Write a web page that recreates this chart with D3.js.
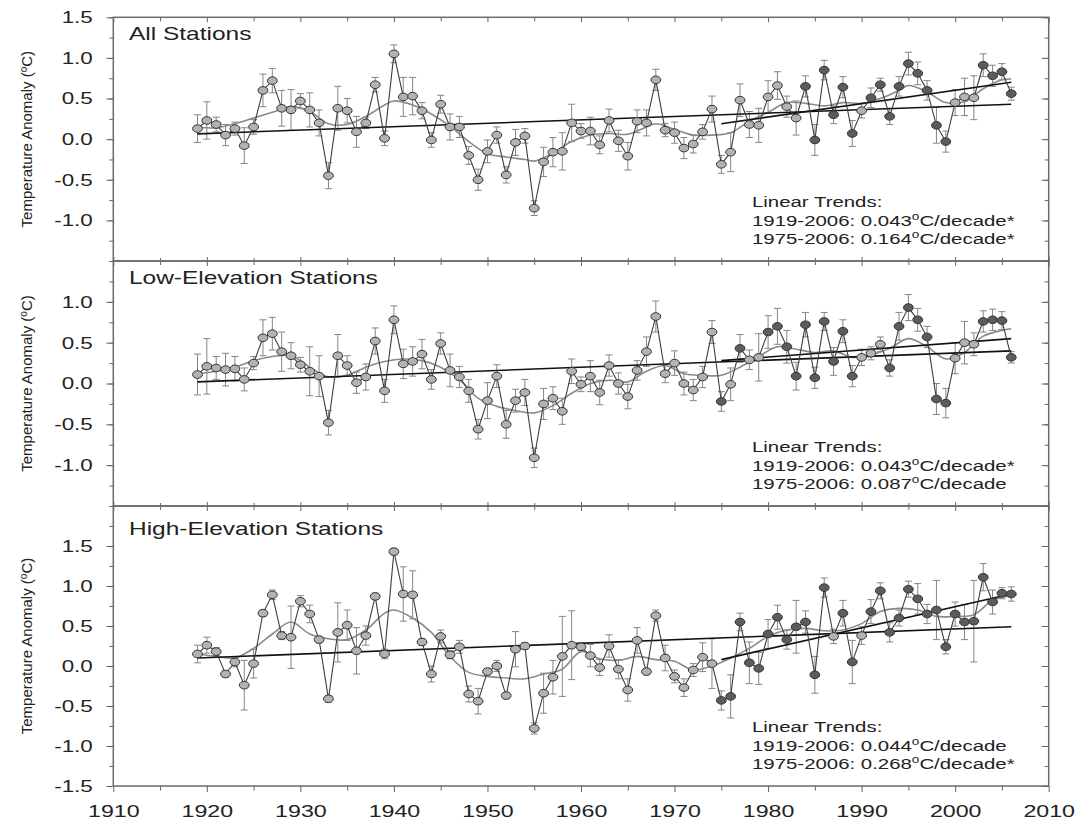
<!DOCTYPE html>
<html>
<head>
<meta charset="utf-8">
<script src="https://cdn.jsdelivr.net/npm/d3@7/dist/d3.min.js"></script>
<style>
body { margin: 0; background: #fff; }
text { font-family: "Liberation Sans", Arial, sans-serif; fill: #222; }
</style>
</head>
<body>
<script>
// years 1919-2006, one value per year
var years = d3.range(1919, 2007);
var xTicks = [1910, 1920, 1930, 1940, 1950, 1960, 1970, 1980, 1990, 2000, 2010];
var xMinor = [1915, 1925, 1935, 1945, 1955, 1965, 1975, 1985, 1995, 2005];

// All stations
var allVals = [0.13,0.23,0.18,0.05,0.13,-0.08,0.15,0.60,0.72,0.38,
  0.36,0.47,0.36,0.20,-0.45,0.38,0.35,0.09,0.20,0.67,
  0.01,1.05,0.52,0.53,0.35,-0.01,0.43,0.15,0.15,-0.20,
  -0.50,-0.15,0.05,-0.44,-0.04,0.04,-0.85,-0.28,-0.16,-0.15,
  0.20,0.10,0.10,-0.07,0.23,-0.02,-0.21,0.22,0.20,0.73,
  0.11,0.08,-0.11,-0.06,0.09,0.37,-0.31,-0.16,0.48,0.18,
  0.17,0.52,0.66,0.40,0.26,0.65,-0.01,0.85,0.30,0.64,
  0.07,0.35,0.51,0.67,0.28,0.65,0.93,0.81,0.60,0.17,
  -0.03,0.45,0.52,0.51,0.91,0.78,0.83,0.56];
var allErr = [0.17,0.23,0.09,0.13,0.08,0.22,0.09,0.20,0.15,0.22,
  0.25,0.09,0.21,0.16,0.16,0.27,0.15,0.19,0.07,0.09,
  0.09,0.11,0.24,0.23,0.10,0.09,0.11,0.16,0.13,0.11,
  0.13,0.14,0.10,0.10,0.16,0.09,0.09,0.18,0.18,0.23,
  0.23,0.09,0.17,0.11,0.14,0.13,0.17,0.14,0.16,0.13,
  0.08,0.13,0.13,0.11,0.09,0.16,0.11,0.24,0.20,0.16,
  0.21,0.20,0.17,0.13,0.21,0.13,0.19,0.12,0.11,0.13,
  0.16,0.09,0.12,0.08,0.10,0.12,0.14,0.14,0.12,0.22,
  0.13,0.16,0.23,0.27,0.14,0.13,0.10,0.08];
var allDark = [1984,1985,1986,1987,1988,1989,1991,1992,1993,1994,1995,1996,1997,1998,1999,2003,2004,2005,2006];
var allSmooth = [[1919,0.15],[1921,0.14],[1923,0.19],[1925,0.26],[1927,0.33],[1929,0.40],[1931,0.34],
  [1933,0.19],[1935,0.18],[1937,0.28],[1939,0.42],[1940,0.47],[1942,0.42],[1944,0.31],[1946,0.16],
  [1948,-0.03],[1950,-0.18],[1952,-0.22],[1954,-0.25],[1955,-0.27],[1957,-0.17],[1959,-0.03],
  [1961,0.05],[1963,0.07],[1965,0.06],[1967,0.15],[1968,0.19],[1970,0.12],[1972,0.05],[1974,0.05],
  [1976,0.08],[1978,0.22],[1980,0.33],[1982,0.45],[1984,0.44],[1986,0.41],[1988,0.45],[1990,0.44],
  [1992,0.50],[1994,0.60],[1995,0.66],[1997,0.58],[1999,0.45],[2001,0.46],[2003,0.62],[2005,0.73],[2006,0.74]];
var allTrend = [[1919,0.065],[2006,0.43]];
var allRecent = [[1975,0.19],[2006,0.70]];
var allLabels = [1.5, 1.0, 0.5, 0.0, -0.5, -1.0];

// Low-elevation stations
var lowVals = [0.11,0.21,0.19,0.17,0.18,0.05,0.25,0.56,0.61,0.39,
  0.34,0.23,0.15,0.09,-0.48,0.34,0.22,0.01,0.08,0.52,
  -0.09,0.78,0.24,0.27,0.36,0.05,0.49,0.16,0.08,-0.09,
  -0.56,-0.21,0.09,-0.50,-0.21,-0.11,-0.91,-0.25,-0.18,-0.34,
  0.15,-0.01,0.09,-0.11,0.22,0.00,-0.16,0.16,0.39,0.82,
  0.12,0.25,0.00,-0.08,0.08,0.63,-0.22,-0.01,0.43,0.29,
  0.32,0.63,0.70,0.45,0.09,0.72,0.07,0.76,0.27,0.64,
  0.09,0.32,0.37,0.48,0.19,0.70,0.93,0.78,0.57,-0.19,
  -0.24,0.31,0.50,0.48,0.76,0.78,0.77,0.32];
var lowErr = [0.25,0.34,0.14,0.20,0.15,0.14,0.08,0.22,0.20,0.24,
  0.16,0.09,0.30,0.25,0.15,0.26,0.12,0.13,0.16,0.16,
  0.14,0.17,0.18,0.18,0.18,0.12,0.13,0.20,0.13,0.14,
  0.12,0.22,0.14,0.17,0.14,0.16,0.12,0.19,0.14,0.16,
  0.15,0.09,0.19,0.15,0.13,0.13,0.15,0.12,0.18,0.19,
  0.11,0.15,0.14,0.13,0.13,0.14,0.12,0.20,0.17,0.12,
  0.29,0.20,0.22,0.20,0.17,0.15,0.13,0.11,0.17,0.14,
  0.13,0.10,0.08,0.09,0.10,0.17,0.16,0.14,0.13,0.19,
  0.18,0.19,0.26,0.14,0.13,0.13,0.11,0.07];
var lowDark = [1975,1977,1980,1981,1982,1983,1984,1985,1986,1987,1988,1989,1993,1994,1995,1996,1997,1998,1999,2003,2004,2005,2006];
var lowSmooth = [[1919,0.12],[1921,0.15],[1923,0.20],[1925,0.28],[1927,0.33],[1929,0.34],[1931,0.20],
  [1933,0.08],[1935,0.10],[1937,0.20],[1939,0.27],[1941,0.30],[1943,0.28],[1945,0.20],[1947,0.05],
  [1949,-0.18],[1951,-0.28],[1953,-0.33],[1955,-0.36],[1957,-0.27],[1959,-0.12],[1961,0.00],
  [1963,0.04],[1965,0.02],[1967,0.15],[1969,0.22],[1971,0.12],[1973,0.10],[1975,0.10],[1977,0.20],
  [1979,0.33],[1981,0.45],[1983,0.42],[1985,0.38],[1987,0.40],[1989,0.32],[1991,0.35],[1993,0.43],
  [1995,0.55],[1997,0.45],[1999,0.30],[2001,0.38],[2003,0.58],[2005,0.65],[2006,0.67]];
var lowTrend = [[1919,0.02],[2006,0.40]];
var lowRecent = [[1975,0.28],[2006,0.55]];
var lowLabels = [1.0, 0.5, 0.0, -0.5, -1.0];

// High-elevation stations
var highVals = [0.15,0.26,0.18,-0.10,0.05,-0.24,0.03,0.66,0.89,0.38,
  0.36,0.81,0.65,0.33,-0.41,0.42,0.51,0.19,0.38,0.87,
  0.15,1.43,0.90,0.89,0.30,-0.10,0.37,0.14,0.24,-0.35,
  -0.44,-0.07,0.00,-0.37,0.21,0.25,-0.78,-0.34,-0.14,0.12,
  0.26,0.24,0.13,-0.02,0.25,-0.04,-0.30,0.32,-0.07,0.63,
  0.10,-0.13,-0.27,-0.05,0.11,0.03,-0.43,-0.38,0.55,0.04,
  -0.03,0.40,0.61,0.33,0.49,0.55,-0.11,0.98,0.37,0.66,
  0.05,0.38,0.68,0.94,0.42,0.60,0.96,0.84,0.65,0.70,
  0.24,0.65,0.55,0.56,1.11,0.80,0.91,0.90];
var highErr = [0.11,0.10,0.05,0.04,0.06,0.31,0.18,0.04,0.06,0.05,
  0.39,0.07,0.11,0.04,0.04,0.37,0.19,0.29,0.12,0.04,
  0.06,0.04,0.34,0.30,0.04,0.10,0.08,0.05,0.08,0.10,
  0.16,0.04,0.07,0.04,0.22,0.04,0.07,0.25,0.21,0.50,
  0.43,0.05,0.14,0.10,0.14,0.12,0.14,0.16,0.04,0.07,
  0.16,0.08,0.11,0.08,0.18,0.31,0.12,0.27,0.11,0.26,
  0.20,0.18,0.15,0.12,0.33,0.14,0.23,0.12,0.09,0.16,
  0.27,0.11,0.15,0.10,0.12,0.10,0.10,0.19,0.12,0.37,
  0.09,0.15,0.22,0.51,0.17,0.15,0.07,0.09];
var highDark = [1975,1976,1977,1978,1979,1980,1981,1982,1983,1984,1985,1986,1988,1989,1991,1992,1993,1994,1995,1996,1997,1998,1999,2000,2001,2002,2003,2004,2005,2006];
var highSmooth = [[1919,0.15],[1921,0.12],[1923,0.10],[1925,0.22],[1927,0.40],[1929,0.55],[1931,0.40],
  [1933,0.34],[1935,0.33],[1937,0.45],[1939,0.66],[1940,0.70],[1942,0.60],[1944,0.42],[1946,0.12],
  [1948,-0.08],[1950,-0.13],[1952,-0.15],[1954,-0.16],[1956,-0.10],[1958,-0.04],[1960,0.18],
  [1962,0.09],[1964,0.07],[1966,0.12],[1968,0.08],[1970,0.06],[1972,-0.05],[1974,0.00],[1976,0.10],
  [1978,0.22],[1980,0.37],[1982,0.45],[1984,0.47],[1986,0.44],[1988,0.45],[1990,0.53],[1992,0.68],
  [1994,0.72],[1996,0.70],[1998,0.62],[2000,0.62],[2002,0.64],[2004,0.82],[2006,0.88]];
var highTrend = [[1919,0.10],[2006,0.49]];
var highRecent = [[1975,0.08],[2006,0.90]];
var highLabels = [1.5, 1.0, 0.5, 0.0, -0.5, -1.0, -1.5];

var titles = ["All Stations", "Low-Elevation Stations", "High-Elevation Stations"];
var trendText = [
  ["1919-2006: 0.043", "C/decade*", "1975-2006: 0.164", "C/decade*"],
  ["1919-2006: 0.043", "C/decade*", "1975-2006: 0.087", "C/decade"],
  ["1919-2006: 0.044", "C/decade", "1975-2006: 0.268", "C/decade*"]
];

var width = 1077, height = 821;
var plotLeft = 113.3, plotRight = 1048.7;
var sx = 1.36; // the picture is stretched sideways

var panels = [
  {vals: allVals, err: allErr, dark: allDark, smooth: allSmooth, trends: [allTrend, allRecent], labels: allLabels, domain: [-1.5, 1.5], top: 17.3, bottom: 261},
  {vals: lowVals, err: lowErr, dark: lowDark, smooth: lowSmooth, trends: [lowTrend, lowRecent], labels: lowLabels, domain: [-1.5, 1.5], top: 261, bottom: 506},
  {vals: highVals, err: highErr, dark: highDark, smooth: highSmooth, trends: [highTrend, highRecent], labels: highLabels, domain: [-1.5, 2.0], top: 506, bottom: 786}
];

var svg = d3.select("body").append("svg")
  .attr("width", width)
  .attr("height", height);

var x = d3.scaleLinear().domain([1910, 2010]).range([plotLeft, plotRight]);
var fmt = function(d){ return d.toFixed(1); };

panels.forEach(function(p, pi){
  var y = d3.scaleLinear().domain(p.domain).range([p.bottom, p.top]);
  var g = svg.append("g");
  var minor = d3.range(p.domain[0], p.domain[1] + 0.001, 0.25);
  var major = d3.range(p.domain[0], p.domain[1] + 0.001, 0.5);

  // left axis
  g.append("g")
    .attr("transform", "translate(" + plotLeft + ",0)")
    .attr("color", "#666")
    .call(d3.axisLeft(y).tickValues(minor).tickSize(4).tickFormat(""))
    .call(function(a){ a.select(".domain").remove(); });
  var la = g.append("g")
    .attr("transform", "translate(" + plotLeft + ",0)")
    .attr("color", "#666")
    .call(d3.axisLeft(y).tickValues(p.labels).tickSize(7).tickFormat(fmt))
    .call(function(a){ a.select(".domain").remove(); });
  la.selectAll("text")
    .attr("x", null)
    .attr("transform", "translate(-20.5,0) scale(" + (sx * 0.97) + ",1)")
    .style("font-size", "17px");

  // right axis, ticks inside
  g.append("g")
    .attr("transform", "translate(" + plotRight + ",0)")
    .attr("color", "#666")
    .call(d3.axisRight(y).tickValues(minor).tickSize(-4).tickFormat(""))
    .call(function(a){ a.select(".domain").remove(); });
  g.append("g")
    .attr("transform", "translate(" + plotRight + ",0)")
    .attr("color", "#666")
    .call(d3.axisRight(y).tickValues(major).tickSize(-7).tickFormat(""))
    .call(function(a){ a.select(".domain").remove(); });

  // top edge ticks
  var topUp = pi === 0 ? 0 : 4;
  [[xMinor, 4], [xTicks, 5]].forEach(function(t){
    g.append("g")
      .attr("transform", "translate(0," + p.top + ")")
      .attr("color", "#666")
      .call(d3.axisBottom(x).tickValues(t[0]).tickSize(t[1]).tickFormat(""))
      .call(function(a){ a.select(".domain").remove(); });
    if (topUp) {
      g.append("g")
        .attr("transform", "translate(0," + p.top + ")")
        .attr("color", "#666")
        .call(d3.axisTop(x).tickValues(t[0]).tickSize(t[1] - 1).tickFormat(""))
        .call(function(a){ a.select(".domain").remove(); });
    }
  });

  // frame
  g.append("rect")
    .attr("x", plotLeft).attr("y", p.top)
    .attr("width", plotRight - plotLeft).attr("height", p.bottom - p.top)
    .attr("fill", "none").attr("stroke", "#6a6a6a").attr("stroke-width", 1.5);

  // error bars
  g.selectAll(".err").data(years).enter().append("path")
    .attr("class", "err")
    .attr("fill", "none").attr("stroke", "#858585").attr("stroke-width", 1)
    .attr("d", function(yr, i){
      var cx = x(yr), y0 = y(p.vals[i] - p.err[i]), y1 = y(p.vals[i] + p.err[i]);
      return "M" + cx + "," + y0 + "V" + y1 +
        "M" + (cx - 3.5) + "," + y0 + "h7" +
        "M" + (cx - 3.5) + "," + y1 + "h7";
    });

  var line = d3.line().x(function(d){ return x(d[0]); }).y(function(d){ return y(d[1]); });

  // smoothed curve
  g.append("path")
    .datum(p.smooth)
    .attr("fill", "none").attr("stroke", "#8a8a8a").attr("stroke-width", 1.6)
    .attr("d", line.curve(d3.curveCatmullRom));

  // linear trends
  p.trends.forEach(function(t){
    g.append("path")
      .datum(t)
      .attr("fill", "none").attr("stroke", "#111").attr("stroke-width", 1.6)
      .attr("d", d3.line().x(function(d){ return x(d[0]); }).y(function(d){ return y(d[1]); }));
  });

  // annual series
  var pts = years.map(function(yr, i){ return [yr, p.vals[i]]; });
  g.append("path")
    .datum(pts)
    .attr("fill", "none").attr("stroke", "#3e3e3e").attr("stroke-width", 1.1)
    .attr("d", d3.line().x(function(d){ return x(d[0]); }).y(function(d){ return y(d[1]); }));

  g.selectAll(".pt").data(pts).enter().append("ellipse")
    .attr("class", "pt")
    .attr("cx", function(d){ return x(d[0]); })
    .attr("cy", function(d){ return y(d[1]); })
    .attr("rx", 4.9).attr("ry", 3.8)
    .attr("fill", function(d){ return p.dark.indexOf(d[0]) >= 0 ? "#5c5c5c" : "#b2b2b2"; })
    .attr("stroke", "#333").attr("stroke-width", 1);

  // panel title
  g.append("text")
    .attr("transform", "translate(129," + (p.top + (pi === 2 ? 29 : 22.5)) + ") scale(" + sx + ",1)")
    .style("font-size", "18px")
    .text(titles[pi]);

  // trend text
  var tt = trendText[pi];
  var tx = 752;
  g.append("text")
    .attr("transform", "translate(" + tx + "," + (p.bottom - 54) + ") scale(" + sx + ",1)")
    .style("font-size", "15px")
    .text("Linear Trends:");
  [0, 1].forEach(function(k){
    var t = g.append("text")
      .attr("transform", "translate(" + tx + "," + (p.bottom - 35.5 + k * 18.5) + ") scale(" + sx + ",1)")
      .style("font-size", "15px");
    t.append("tspan").text(tt[k * 2]);
    t.append("tspan").attr("dy", -6).style("font-size", "10px").text("o");
    t.append("tspan").attr("dy", 6).text(tt[k * 2 + 1]);
  });

  // y axis title
  var yt = g.append("text")
    .attr("transform", "translate(32," + ((p.top + p.bottom) / 2) + ") rotate(-90)")
    .attr("text-anchor", "middle")
    .style("font-size", "15px");
  yt.append("tspan").text("Temperature Anomaly (");
  yt.append("tspan").attr("dy", -5).style("font-size", "10px").text("o");
  yt.append("tspan").attr("dy", 5).text("C)");
});

// bottom x axis
var xb = svg.append("g")
  .attr("transform", "translate(0,786)")
  .attr("color", "#666")
  .call(d3.axisBottom(x).tickValues(xTicks).tickSize(6).tickFormat(d3.format("d")))
  .call(function(a){ a.select(".domain").remove(); });
xb.selectAll("text")
  .attr("y", null).attr("dy", null)
  .attr("transform", "translate(0,31) scale(1.45,1)")
  .style("font-size", "16px");
svg.append("g")
  .attr("transform", "translate(0,786)")
  .attr("color", "#666")
  .call(d3.axisBottom(x).tickValues(xMinor).tickSize(4.5).tickFormat(""))
  .call(function(a){ a.select(".domain").remove(); });
</script>
</body>
</html>
